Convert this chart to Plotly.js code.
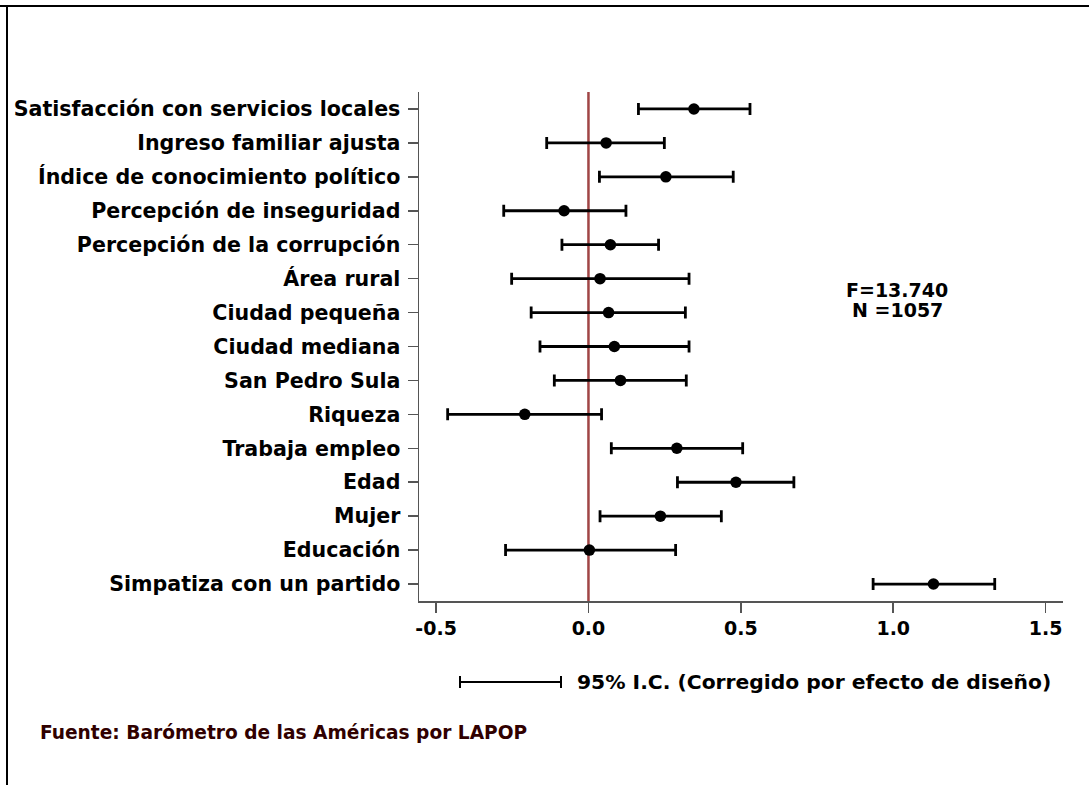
<!DOCTYPE html>
<html>
<head>
<meta charset="utf-8">
<script src="https://cdn.plot.ly/plotly-3.0.1.min.js"></script>
<style>
html,body{margin:0;padding:0;background:#fff;}
#chart{width:1089px;height:785px;}
</style>
</head>
<body>
<div id="chart"></div>
<script>
// Variables, top to bottom as shown
var variables = [
  "Satisfacción con servicios locales",
  "Ingreso familiar ajusta",
  "Índice de conocimiento político",
  "Percepción de inseguridad",
  "Percepción de la corrupción",
  "Área rural",
  "Ciudad pequeña",
  "Ciudad mediana",
  "San Pedro Sula",
  "Riqueza",
  "Trabaja empleo",
  "Edad",
  "Mujer",
  "Educación",
  "Simpatiza con un partido"
];
var coefs  = [0.346, 0.058, 0.254, -0.080, 0.072, 0.038, 0.066, 0.085, 0.105, -0.209, 0.290, 0.484, 0.236, 0.003, 1.132];
var ciLow  = [0.164, -0.137, 0.036, -0.278, -0.087, -0.252, -0.188, -0.159, -0.112, -0.462, 0.075, 0.292, 0.038, -0.272, 0.934];
var ciHigh = [0.530, 0.249, 0.475, 0.123, 0.230, 0.330, 0.318, 0.330, 0.321, 0.043, 0.506, 0.674, 0.436, 0.286, 1.333];
var xTickVals = [-0.5, 0, 0.5, 1, 1.5];
var xTickText = ["-0.5", "0.0", "0.5", "1.0", "1.5"];
var statF = "F=13.740";
var statN = "N =1057";
var legendText = "95% I.C. (Corregido por efecto de diseño)";
var sourceText = "Fuente: Barómetro de las Américas por LAPOP";

var FONT = "DejaVu Sans, Liberation Sans, Arial, sans-serif";

var plus = coefs.map(function(c, i){ return ciHigh[i] - c; });
var minus = coefs.map(function(c, i){ return c - ciLow[i]; });

var trace = {
  type: "scatter",
  mode: "markers",
  x: coefs,
  y: variables,
  marker: {color: "#000", size: 11.5},
  error_x: {type: "data", symmetric: false, array: plus, arrayminus: minus,
            color: "#000", thickness: 2.8, width: 6},
  showlegend: false,
  hoverinfo: "x+y"
};

var layout = {
  width: 1089, height: 785,
  margin: {l: 419, r: 26, t: 92, b: 184},
  paper_bgcolor: "#fff", plot_bgcolor: "#fff",
  font: {family: FONT, color: "#000"},
  xaxis: {
    range: [-0.556, 1.557],
    tickvals: xTickVals, ticktext: xTickText,
    showgrid: false, zeroline: false,
    showline: true, linecolor: "#555", linewidth: 1.5,
    ticks: "outside", ticklen: 10, tickwidth: 1.5, tickcolor: "#555",
    tickfont: {family: FONT, size: 19, color: "#000", weight: "bold"},
    fixedrange: true
  },
  yaxis: {
    type: "category",
    categoryorder: "array",
    categoryarray: variables.slice().reverse(),
    range: [-0.5, 14.5],
    showgrid: false, zeroline: false,
    showline: true, linecolor: "#555", linewidth: 1.5,
    ticks: "outside", ticklen: 10, tickwidth: 1.5, tickcolor: "#555",
    ticklabelstandoff: 3,
    tickfont: {family: FONT, size: 20.6, color: "#000", weight: "bold"},
    fixedrange: true
  },
  shapes: [
    {type: "line", xref: "x", yref: "paper", x0: 0, x1: 0, y0: 0, y1: 1,
     line: {color: "#a04545", width: 2.5}, layer: "below"},
    // frame lines (top and left)
    {type: "line", xref: "paper", yref: "paper", x0: -419/644, x1: 1.1, y0: 1 + 86/509, y1: 1 + 86/509,
     line: {color: "#000", width: 2}},
    {type: "line", xref: "paper", yref: "paper", x0: -412/644, x1: -412/644, y0: 1 + 87/509, y1: -190/509,
     line: {color: "#000", width: 2}},
    // legend key
    {type: "line", xref: "paper", yref: "paper", x0: 41/644, x1: 142/644, y0: -81/509, y1: -81/509,
     line: {color: "#000", width: 2}},
    {type: "line", xref: "paper", yref: "paper", x0: 41/644, x1: 41/644, y0: -75/509, y1: -87/509,
     line: {color: "#000", width: 2}},
    {type: "line", xref: "paper", yref: "paper", x0: 142/644, x1: 142/644, y0: -75/509, y1: -87/509,
     line: {color: "#000", width: 2}}
  ],
  annotations: [
    {xref: "paper", yref: "paper", x: 478/644, y: 1 - 198/509, text: statF,
     showarrow: false, xanchor: "center", yanchor: "middle",
     font: {family: FONT, size: 19, color: "#000", weight: "bold"}},
    {xref: "paper", yref: "paper", x: 478/644, y: 1 - 218/509, text: statN,
     showarrow: false, xanchor: "center", yanchor: "middle",
     font: {family: FONT, size: 19, color: "#000", weight: "bold"}},
    {xref: "paper", yref: "paper", x: 156/644, y: -81/509, text: legendText,
     showarrow: false, xanchor: "left", yanchor: "middle",
     font: {family: FONT, size: 20.3, color: "#000", weight: "bold"}},
    {xref: "paper", yref: "paper", x: -381/644, y: -131/509, text: sourceText,
     showarrow: false, xanchor: "left", yanchor: "middle",
     font: {family: FONT, size: 18.6, color: "#300000", weight: "bold"}}
  ]
};

Plotly.newPlot("chart", [trace], layout, {staticPlot: true, displayModeBar: false});
</script>
</body>
</html>
